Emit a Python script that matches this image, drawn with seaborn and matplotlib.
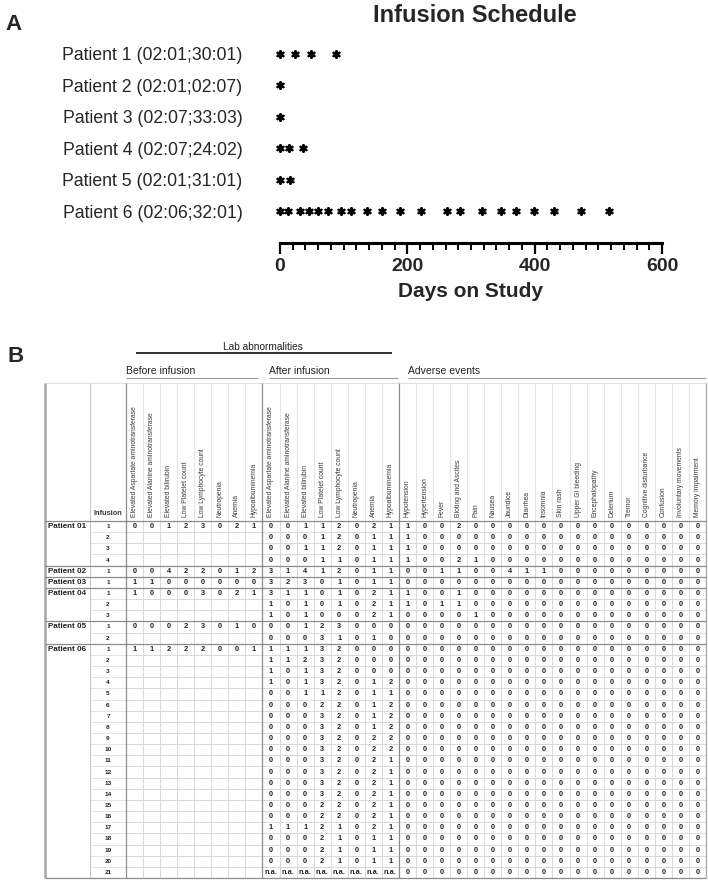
import numpy as np
import pandas as pd
import seaborn as sns
import matplotlib.pyplot as plt
from matplotlib.colors import ListedColormap
from matplotlib.ticker import MultipleLocator

# ---- panel A: infusion schedule ----
schedule_labels = ["Patient 1 (02:01;30:01)", "Patient 2 (02:01;02:07)",
                   "Patient 3 (02:07;33:03)", "Patient 4 (02:07;24:02)",
                   "Patient 5 (02:01;31:01)", "Patient 6 (02:06;32:01)"]
days_p1 = [0, 24, 48, 88]
days_p2 = [0]
days_p3 = [0]
days_p4 = [0, 14, 36]
days_p5 = [0, 15]
days_p6 = [0, 13, 32, 46, 60, 76, 96, 112, 137, 160, 188, 222, 262, 283,
           318, 347, 370, 399, 431, 473, 516]
infusion_days = [days_p1, days_p2, days_p3, days_p4, days_p5, days_p6]

# ---- panel B: lab abnormalities and adverse events ----
lab_items = ["Elevated Aspartate aminotransferase", "Elevated Alanine aminotransferase",
             "Elevated bilirubin", "Low Platelet count", "Low Lymphocyte count",
             "Neutropenia", "Anemia", "Hypoalbuminemia"]
ae_items = ["Hypotension", "Hypertension", "Fever", "Bloting and Ascites", "Pain",
            "Nausea", "Jaundice", "Diarrhea", "Insomnia", "Skin rash",
            "Upper GI bleeding", "Encephalopathy", "Delerium", "Tremor",
            "Cognitive disturbance", "Confusion", "Involuntary movements",
            "Memory impairment"]
patient_names = ["Patient 01", "Patient 02", "Patient 03", "Patient 04",
                 "Patient 05", "Patient 06"]
infusions_per_patient = [4, 1, 1, 3, 2, 21]
before_infusion = ["00123021", "00422012", "11000000", "10003021", "00023010", "11222001"]
after_infusion = ["00112021", "00012011", "00112011", "00011011",
                  "31412011",
                  "32301011",
                  "31101021", "10101021", "10100021",
                  "00123000", "00031010",
                  "11132000", "11232000", "10132000", "10132012", "00112011",
                  "00022012", "00032012", "00032012", "00032022", "00032022",
                  "00032021", "00032021", "00032021", "00032021", "00022021",
                  "00022021", "11121021", "00021011", "00021011", "00021011",
                  "n.a."]
adverse_events = ["100200000000000000", "100000000000000000", "100000000000000000",
                  "100210000000000000",
                  "001100411000000000",
                  "000000000000000000",
                  "100100000000000000", "101100000000000000", "000010000000000000",
                  "000000000000000000", "000000000000000000"] + ["000000000000000000"] * 21

W, H = 708, 881


def px_rect(l, t, r, b):
    return [l / W, 1 - b / H, (r - l) / W, (b - t) / H]


sns.set_theme(style="white")
plt.rcParams["font.family"] = ["Liberation Sans", "DejaVu Sans"]

fig = plt.figure(figsize=(W / 100, H / 100), dpi=100)

# ---------------- panel A ----------------
rows = []
for lab, days in zip(schedule_labels, infusion_days):
    for d in days:
        rows.append((lab, d))
sched = pd.DataFrame(rows, columns=["patient", "day"])

ax_a = fig.add_axes(px_rect(280, 38, 662, 243))
sns.scatterplot(data=sched, x="day", y="patient", marker=(6, 2, 0), s=22,
                color="black", linewidth=1.7, clip_on=False, legend=False, ax=ax_a)
ax_a.set_xlim(0, 600)
ax_a.set_ylim(6, -0.5)
ax_a.xaxis.set_major_locator(MultipleLocator(200))
ax_a.xaxis.set_minor_locator(MultipleLocator(20))
ax_a.tick_params(axis="x", which="major", bottom=True, length=8, width=1.6,
                 direction="out", labelsize=14, pad=3, color="black")
ax_a.tick_params(axis="x", which="minor", bottom=True, length=5, width=1.4,
                 direction="out", color="black")
for t in ax_a.get_xticklabels():
    t.set_fontweight("bold")
ax_a.tick_params(axis="y", length=0, pad=27, labelsize=12.7)
sns.despine(ax=ax_a, left=True)
ax_a.spines["bottom"].set_linewidth(2.2)
ax_a.spines["bottom"].set_color("black")
ax_a.set_ylabel("")
ax_a.set_xlabel("Days on Study", fontsize=15, fontweight="bold", labelpad=5)
fig.text(475 / W, 1 - 15 / H, "Infusion Schedule", ha="center", va="center",
         fontsize=17, fontweight="bold")
fig.text(13 / W, 1 - 24 / H, "A", ha="center", va="center", fontsize=16, fontweight="bold")

# ---------------- panel B ----------------
columns = lab_items + lab_items + ae_items
ncol = len(columns)
nrow = sum(infusions_per_patient)

annot = np.full((nrow, ncol), "", dtype=object)
r = 0
for p, n in enumerate(infusions_per_patient):
    for j, ch in enumerate(before_infusion[p]):
        annot[r, j] = ch
    r += n
for i, s in enumerate(after_infusion):
    vals = ["n.a."] * 8 if s == "n.a." else list(s)
    annot[i, 8:16] = vals
for i, s in enumerate(adverse_events):
    annot[i, 16:] = list(s)

tab_l, tab_r, tab_t, tab_b = 126, 706, 521, 878
colw = (tab_r - tab_l) / ncol
rowh = (tab_b - tab_t) / nrow


def tx(px):
    return (px - tab_l) / colw


def ty(py):
    return (py - tab_t) / rowh


ax_b = fig.add_axes(px_rect(tab_l, tab_t, tab_r, tab_b))
sns.heatmap(pd.DataFrame(np.zeros((nrow, ncol)), columns=columns), annot=annot, fmt="",
            cmap=ListedColormap(["white"]), vmin=0, vmax=1, cbar=False,
            linewidths=0.5, linecolor="#d9d9d9", xticklabels=False, yticklabels=False,
            annot_kws=dict(fontsize=5.3, fontweight="bold", color="#222222"), ax=ax_b)

light = "#d9d9d9"
dark = "#8c8c8c"
hdr_top = ty(383)

# header grid
ax_b.vlines(np.arange(ncol + 1), hdr_top, 0, colors=light, lw=0.5, clip_on=False)
ax_b.hlines(hdr_top, tx(45), ncol, colors=light, lw=0.6, clip_on=False)
ax_b.hlines(np.arange(nrow + 1), tx(90), 0, colors=light, lw=0.5, clip_on=False)
ax_b.vlines(tx(90), hdr_top, nrow, colors="#c4c4c4", lw=0.7, clip_on=False)
ax_b.vlines(tx(45), hdr_top, nrow, colors="#a6a6a6", lw=1.8, clip_on=False)
ax_b.vlines([0, 8, 16], hdr_top, nrow, colors=dark, lw=0.9, clip_on=False)
ax_b.vlines(ncol, hdr_top, nrow, colors="#a6a6a6", lw=0.9, clip_on=False)
starts = np.cumsum([0] + infusions_per_patient)
ax_b.hlines(starts, tx(45), ncol, colors=dark, lw=0.9, clip_on=False)

# column labels
for j, name in enumerate(columns):
    ax_b.text(j + 0.5, -0.4, name, rotation=90, ha="center", va="bottom",
              fontsize=4.9, color="#3a3a3a", clip_on=False)
ax_b.text(tx(108), -0.4, "Infusion", ha="center", va="bottom", fontsize=5.3,
          fontweight="bold", color="#333333", clip_on=False)

# patient and infusion columns
for p, name in enumerate(patient_names):
    ax_b.text(tx(48), starts[p] + 0.5, name, ha="left", va="center", fontsize=5.8,
              fontweight="bold", color="#222222", clip_on=False)
    for k in range(infusions_per_patient[p]):
        ax_b.text(tx(108), starts[p] + k + 0.5, str(k + 1), ha="center", va="center",
                  fontsize=4.6, fontweight="bold", color="#222222", clip_on=False)

# group headers
ax_b.text(8, ty(347), "Lab abnormalities", ha="center", va="center", fontsize=7.3,
          color="#222222", clip_on=False)
ax_b.hlines(ty(353), tx(136), tx(392), colors="#222222", lw=1.3, clip_on=False)
for label, x0, x1 in [("Before infusion", 126, 258), ("After infusion", 269, 398),
                      ("Adverse events", 408, 706)]:
    ax_b.text(tx(x0), ty(371), label, ha="left", va="center", fontsize=7.5,
              color="#222222", clip_on=False)
    ax_b.hlines(ty(378), tx(x0), tx(x1), colors="#999999", lw=0.8, clip_on=False)

fig.text(16 / W, 1 - 356 / H, "B", ha="center", va="center", fontsize=16, fontweight="bold")

fig.savefig("out.png", dpi=100)
